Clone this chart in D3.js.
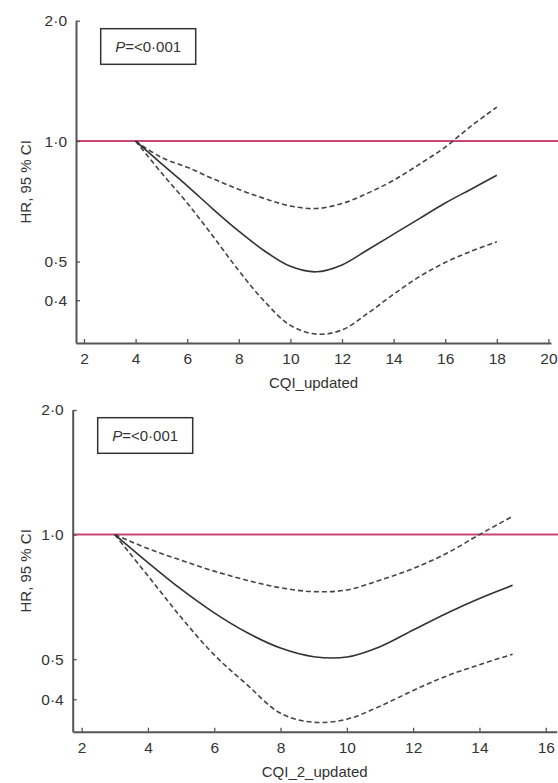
<!DOCTYPE html>
<html>
<head>
<meta charset="utf-8">
<script src="https://cdn.jsdelivr.net/npm/d3@7"></script>
<style>
  html, body { margin: 0; padding: 0; background: #fff; }
  svg { display: block; }
  text { font-family: "Liberation Sans", Arial, Helvetica, sans-serif; fill: #333; }
</style>
</head>
<body>
<svg id="chart" width="558" height="783"></svg>
<script>
// ---------- Data ----------
// Panel 1: CQI_updated
const cqiX = [4, 5, 6, 7, 8, 9, 10, 11, 12, 13, 14, 15, 16, 17, 18];
const cqiHR = [1.0, 0.878, 0.773, 0.676, 0.595, 0.531, 0.486, 0.471, 0.49, 0.535, 0.585, 0.64, 0.70, 0.758, 0.821];
const cqiUpper = [1.0, 0.91, 0.86, 0.805, 0.757, 0.718, 0.688, 0.678, 0.698, 0.741, 0.798, 0.875, 0.966, 1.09, 1.216];
const cqiLower = [1.0, 0.833, 0.70, 0.578, 0.474, 0.397, 0.346, 0.329, 0.337, 0.371, 0.414, 0.458, 0.497, 0.53, 0.56];
const cqiXTicks = [2, 4, 6, 8, 10, 12, 14, 16, 18, 20];

// Panel 2: CQI_2_updated
const cqi2X = [3, 4, 5, 6, 7, 8, 9, 10, 11, 12, 13, 14, 15];
const cqi2HR = [1.0, 0.856, 0.738, 0.647, 0.579, 0.532, 0.507, 0.506, 0.536, 0.588, 0.645, 0.701, 0.754];
const cqi2Upper = [1.0, 0.925, 0.867, 0.816, 0.775, 0.744, 0.728, 0.735, 0.776, 0.828, 0.90, 1.0, 1.107];
const cqi2Lower = [1.0, 0.795, 0.631, 0.512, 0.433, 0.37, 0.352, 0.358, 0.385, 0.42, 0.455, 0.485, 0.514];
const cqi2XTicks = [2, 4, 6, 8, 10, 12, 14, 16];

const yTicks = [0.4, 0.5, 1.0, 2.0];
const yTitle = "HR, 95 % CI";
const pLabelItalic = "P";
const pLabelRest = "=<0·001";
const refHR = 1.0;

// ---------- Layout ----------
const panels = [
  {
    xs: cqiX, hr: cqiHR, up: cqiUpper, lo: cqiLower, xTicks: cqiXTicks,
    xTitle: "CQI_updated",
    xDomain: [1.69, 20.1], xRange: [76, 551],
    yDomain: [0.3126, 2.0], yRange: [343, 20.7],
    box: { x: 100.7, y: 28.7, w: 95, h: 35.6 },
    titleY: 388
  },
  {
    xs: cqi2X, hr: cqi2HR, up: cqi2Upper, lo: cqi2Lower, xTicks: cqi2XTicks,
    xTitle: "CQI_2_updated",
    xDomain: [1.73, 16.33], xRange: [72.7, 556.7],
    yDomain: [0.334, 2.0], yRange: [731.7, 410],
    box: { x: 97.7, y: 417.7, w: 95, h: 35.6 },
    titleY: 777
  }
];

const svg = d3.select("#chart");
const fmt = d => d3.format(".1f")(d).replace(".", "·");

panels.forEach(p => {
  const x = d3.scaleLinear().domain(p.xDomain).range(p.xRange);
  const y = d3.scaleLog().domain(p.yDomain).range(p.yRange);
  const g = svg.append("g");

  // reference line at HR = 1
  g.append("line")
    .attr("x1", p.xRange[0]).attr("x2", 558)
    .attr("y1", y(refHR)).attr("y2", y(refHR))
    .attr("stroke", "#c9466f").attr("stroke-width", 2);

  // axes
  const xAxis = d3.axisBottom(x).tickValues(p.xTicks).tickFormat(d3.format("d"))
    .tickSizeInner(-4).tickSizeOuter(0).tickPadding(10);
  const yAxis = d3.axisLeft(y).tickValues(yTicks).tickFormat(fmt)
    .tickSizeInner(-4).tickSizeOuter(0).tickPadding(9);

  const gx = g.append("g").attr("transform", `translate(0,${p.yRange[0]})`).call(xAxis);
  const gy = g.append("g").attr("transform", `translate(${p.xRange[0]},0)`).call(yAxis);
  [gx, gy].forEach(a => {
    a.select(".domain").attr("stroke", "#555").attr("stroke-width", 2);
    a.selectAll(".tick line").attr("stroke", "#555").attr("stroke-width", 1.3);
    a.selectAll(".tick text").attr("font-size", 15.5).attr("fill", "#333")
      .style("font-family", '"Liberation Sans", Arial, sans-serif');
  });

  // axis titles
  g.append("text")
    .attr("x", (p.xRange[0] + p.xRange[1]) / 2).attr("y", p.titleY)
    .attr("text-anchor", "middle").attr("font-size", 15)
    .text(p.xTitle);
  g.append("text")
    .attr("transform", `translate(31,${(p.yRange[0] + p.yRange[1]) / 2}) rotate(-90)`)
    .attr("text-anchor", "middle").attr("font-size", 15)
    .text(yTitle);

  // curves
  const line = (vals) => d3.line()
    .x((d, i) => x(p.xs[i])).y(d => y(d))
    .curve(d3.curveCatmullRom.alpha(0.5))(vals);

  g.append("path").attr("d", line(p.up)).attr("fill", "none")
    .attr("stroke", "#444").attr("stroke-width", 1.6).attr("stroke-dasharray", "5,3");
  g.append("path").attr("d", line(p.lo)).attr("fill", "none")
    .attr("stroke", "#444").attr("stroke-width", 1.6).attr("stroke-dasharray", "5,3");
  g.append("path").attr("d", line(p.hr)).attr("fill", "none")
    .attr("stroke", "#333").attr("stroke-width", 1.6);

  // P-value box
  g.append("rect")
    .attr("x", p.box.x).attr("y", p.box.y).attr("width", p.box.w).attr("height", p.box.h)
    .attr("fill", "#fff").attr("stroke", "#333").attr("stroke-width", 1.5);
  const t = g.append("text")
    .attr("x", p.box.x + p.box.w / 2).attr("y", p.box.y + p.box.h / 2 + 5)
    .attr("text-anchor", "middle").attr("font-size", 15);
  t.append("tspan").attr("font-style", "italic").text(pLabelItalic);
  t.append("tspan").text(pLabelRest);
});
</script>
</body>
</html>
